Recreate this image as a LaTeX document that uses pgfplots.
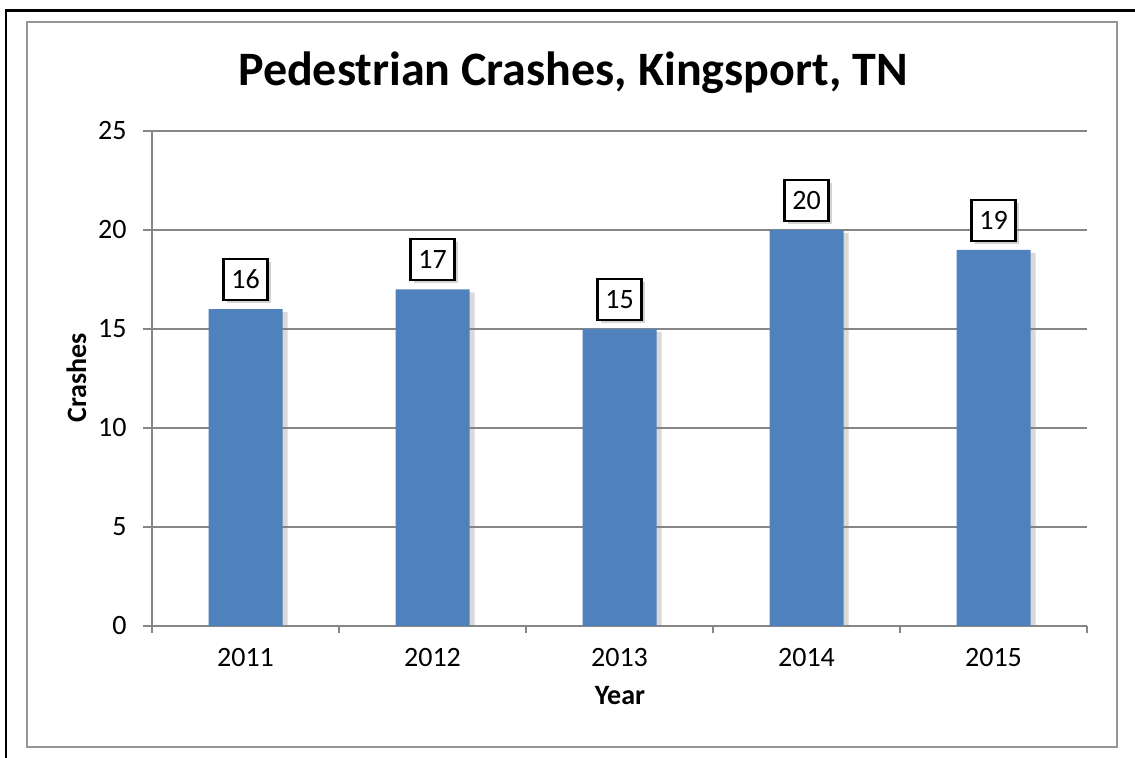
\documentclass[border=0pt]{standalone}
\usepackage{fontspec}
\setmainfont{Carlito}
\usepackage{pgfplots}
\pgfplotsset{compat=1.18}
\usetikzlibrary{shadows}
\definecolor{barblue}{RGB}{79,129,189}
\definecolor{axgray}{RGB}{134,134,134}
\definecolor{bordergray}{RGB}{150,150,150}
\begin{document}
\begin{tikzpicture}[x=1pt,y=1pt]
\useasboundingbox (0,0) rectangle (567.5,379);
\draw[bordergray, line width=0.8pt] (13.5,5.5) rectangle (558.5,368);
\draw[black, line width=1.2pt] (3,0) -- (3,373.75) -- (567.5,373.75);
\node[anchor=base, font=\fontsize{24}{28}\selectfont\bfseries] at (286.5,336) {Pedestrian Crashes, Kingsport, TN};
\begin{axis}[
  at={(76pt,66pt)}, anchor=south west,
  scale only axis, width=467.5pt, height=247.5pt,
  xmin=-0.5, xmax=4.5, ymin=0, ymax=25,
  axis x line*=bottom, axis y line*=left,
  axis line style={axgray, line width=0.8pt},
  xtick={0,1,2,3,4}, xticklabels={2011,2012,2013,2014,2015},
  minor xtick={-0.5,0.5,1.5,2.5,3.5,4.5},
  ytick={0,5,10,15,20,25},
  tick align=outside,
  major tick length=4.5pt, minor tick length=3.5pt,
  x tick style={draw=none},
  minor x tick style={draw=axgray, line width=0.8pt},
  y tick style={axgray, line width=0.8pt},
  ymajorgrids, grid style={axgray, line width=0.8pt},
  /pgf/number format/assume math mode=true,
  ticklabel style={font=\fontsize{14}{16}\selectfont},
  yticklabel style={inner sep=0pt, anchor=east, xshift=-8pt},
  xticklabel style={inner sep=0pt, anchor=base, yshift=-16pt},
  ybar, bar width=37pt,
  nodes near coords,
  every node near coord/.style={draw=black, line width=1.1pt, fill=white,
     minimum width=22pt, minimum height=20.5pt, inner sep=0pt,
     anchor=south, yshift=4pt, font=\fontsize{14}{16}\selectfont,
     drop shadow={opacity=0.35, shadow xshift=1.5pt, shadow yshift=-1.5pt}},
]
\addplot[fill=barblue, draw=none, drop shadow={opacity=0.3, shadow xshift=2.5pt, shadow yshift=-1.5pt}] coordinates {(0,16) (1,17) (2,15) (3,20) (4,19)};
\end{axis}
\node[font=\fontsize{14}{16}\selectfont\bfseries, anchor=base] at (310,26.5) {Year};
\node[font=\fontsize{14}{16}\selectfont\bfseries, rotate=90, anchor=base] at (43,190) {Crashes};
\end{tikzpicture}
\end{document}
